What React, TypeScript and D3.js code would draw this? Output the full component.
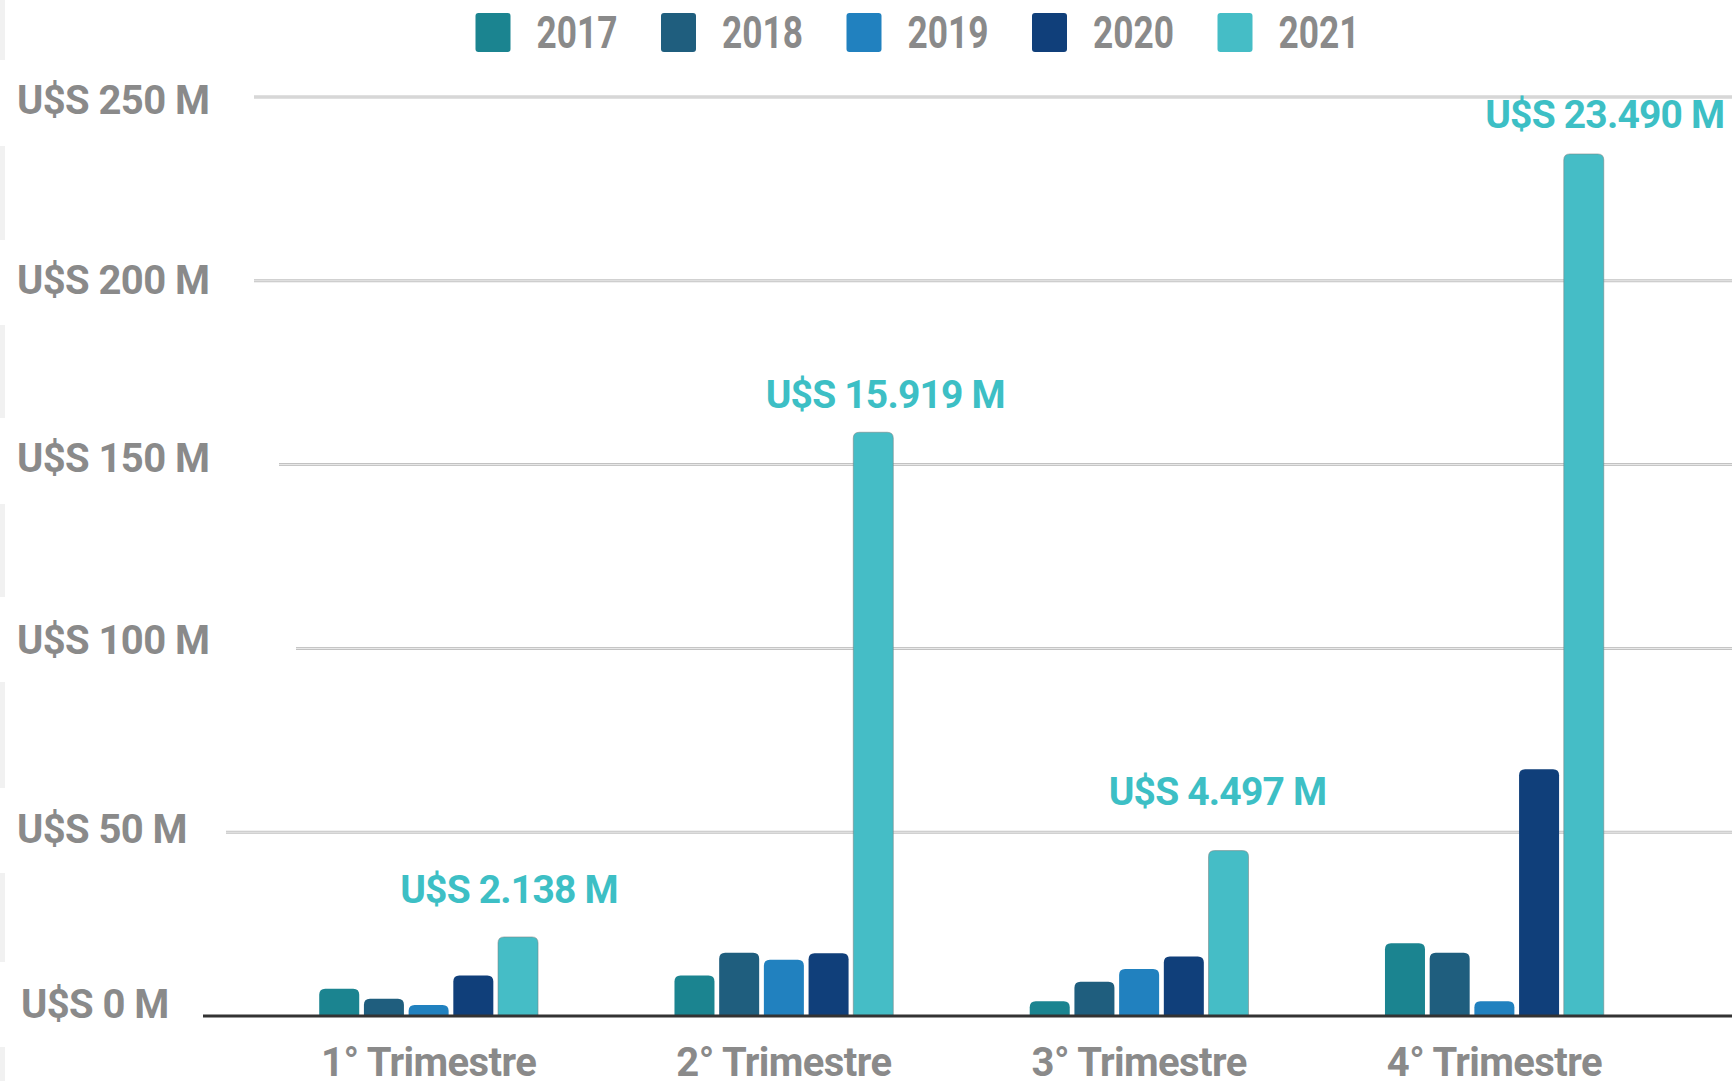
import React from "react";
import * as d3 from "d3";

const quarters = ["1° Trimestre", "2° Trimestre", "3° Trimestre", "4° Trimestre"];
const years = ["2017", "2018", "2019", "2020", "2021"];
const v2017 = [7.4, 11.0, 4.0, 19.8];
const v2018 = [4.7, 17.2, 9.3, 17.2];
const v2019 = [3.0, 15.3, 12.8, 4.0];
const v2020 = [11.0, 17.1, 16.2, 67.1];
const v2021 = [21.5, 158.8, 45.0, 234.5];
const series = [v2017, v2018, v2019, v2020, v2021];
const colors = ["#1b8490", "#1f5e7e", "#2181bf", "#103f7a", "#45bdc6"];
const tickValues = [0, 50, 100, 150, 200, 250];
const tickLabels = ["U$S 0 M", "U$S 50 M", "U$S 100 M", "U$S 150 M", "U$S 200 M", "U$S 250 M"];
const annotations = ["U$S 2.138 M", "U$S 15.919 M", "U$S 4.497 M", "U$S 23.490 M"];

// layout constants
const W = 1732;
const H = 1081;
const gridStarts = [203, 226, 296, 279, 254, 254];
const tickNudgeY = [-12, -3, -8, -6, 0, 3.5];
const annNudgeX = [-9, 12, -11, 21];
const annNudgeY = [-47, -37, -59, -39];
const leftStrips = [[0, 60], [146, 240], [325, 418], [504, 597], [682, 788], [873, 962], [1047, 1081]];
const FONT = "Roboto, 'Noto Sans', sans-serif";
const GRAY = "#8a8a8a";
const ANN = "#3dbfc5";

function topRounded(x: number, y: number, w: number, h: number, r: number) {
  const rr = Math.min(r, h, w / 2);
  return `M${x},${y + h}V${y + rr}Q${x},${y} ${x + rr},${y}H${x + w - rr}Q${x + w},${y} ${x + w},${y + rr}V${y + h}Z`;
}

export default function App() {
  const y = d3.scaleLinear().domain([0, 250]).range([1016, 97]);
  const x0 = d3.scaleBand<string>().domain(quarters).range([251, 1672]).padding(0);
  const innerW = 218.8;
  const x1 = d3.scaleBand<string>().domain(years).range([0, innerW]).paddingInner(0.105).paddingOuter(0);

  return (
    <svg width={W} height={H} style={{ position: "absolute", left: 0, top: 0, background: "#fff" }}>
      <rect x={0} y={0} width={W} height={H} fill="#fff" />
      {leftStrips.map(([a, b], i) => (
        <rect key={"s" + i} x={0} y={a} width={5} height={b - a} fill="#f1f1f1" />
      ))}
      {/* legend */}
      {years.map((yr, i) => {
        const sx = 475.5 + i * 185.5;
        return (
          <g key={"lg" + yr}>
            <rect x={sx} y={13} width={35} height={39} rx={3} fill={colors[i]} />
            <text
              x={sx + 61}
              y={33}
              dominantBaseline="central"
              fontFamily={FONT}
              fontWeight={700}
              fontSize={44}
              fill={GRAY}
              textLength={81}
              lengthAdjust="spacingAndGlyphs"
            >
              {yr}
            </text>
          </g>
        );
      })}
      {/* gridlines */}
      {tickValues.map((t, i) =>
        t === 0 ? null : (
          <g key={"g" + t}>
            <line x1={gridStarts[i]} x2={W} y1={y(t)} y2={y(t)} stroke="#c2c2c2" strokeWidth={3} />
            <line x1={gridStarts[i]} x2={W} y1={y(t)} y2={y(t)} stroke="#ececec" strokeWidth={1} />
          </g>
        )
      )}
      {/* y labels */}
      {tickValues.map((t, i) => (
        <text
          key={"yl" + t}
          x={t === 0 ? 21 : 17}
          y={y(t) + tickNudgeY[i]}
          dominantBaseline="central"
          fontFamily={FONT}
          fontWeight={700}
          fontSize={40}
          fill={GRAY}
          letterSpacing={-0.6}
        >
          {tickLabels[i]}
        </text>
      ))}
      {/* bars */}
      {quarters.map((q, qi) => {
        const cx = (x0(q) as number) + x0.bandwidth() / 2;
        const gx = cx - innerW / 2;
        return (
          <g key={"q" + q}>
            {years.map((yr, yi) => {
              const v = series[yi][qi];
              const bx = gx + (x1(yr) as number);
              const top = y(v);
              const h = y(0) - top;
              return (
                <path
                  key={yr}
                  d={topRounded(bx, top, x1.bandwidth(), h, 6)}
                  fill={colors[yi]}
                  stroke={yi === 4 ? "rgba(120,130,130,0.55)" : "none"}
                  strokeWidth={yi === 4 ? 1 : 0}
                />
              );
            })}
          </g>
        );
      })}
      {/* baseline */}
      <line x1={203} x2={W} y1={y(0)} y2={y(0)} stroke="#333" strokeWidth={3} />
      {/* x labels */}
      {quarters.map((q) => (
        <text
          key={"xl" + q}
          x={(x0(q) as number) + x0.bandwidth() / 2}
          y={1062}
          textAnchor="middle"
          dominantBaseline="central"
          fontFamily={FONT}
          fontWeight={700}
          fontSize={40}
          fill={GRAY}
          letterSpacing={-0.6}
        >
          {q}
        </text>
      ))}
      {/* annotations */}
      {quarters.map((q, qi) => {
        const cx = (x0(q) as number) + x0.bandwidth() / 2 - innerW / 2 + (x1("2021") as number) + x1.bandwidth() / 2;
        return (
          <text
            key={"an" + q}
            x={cx + annNudgeX[qi]}
            y={y(v2021[qi]) + annNudgeY[qi]}
            textAnchor="middle"
            dominantBaseline="central"
            fontFamily={FONT}
            fontWeight={700}
            fontSize={39}
            fill={ANN}
            letterSpacing={-0.8}
          >
            {annotations[qi]}
          </text>
        );
      })}
    </svg>
  );
}
